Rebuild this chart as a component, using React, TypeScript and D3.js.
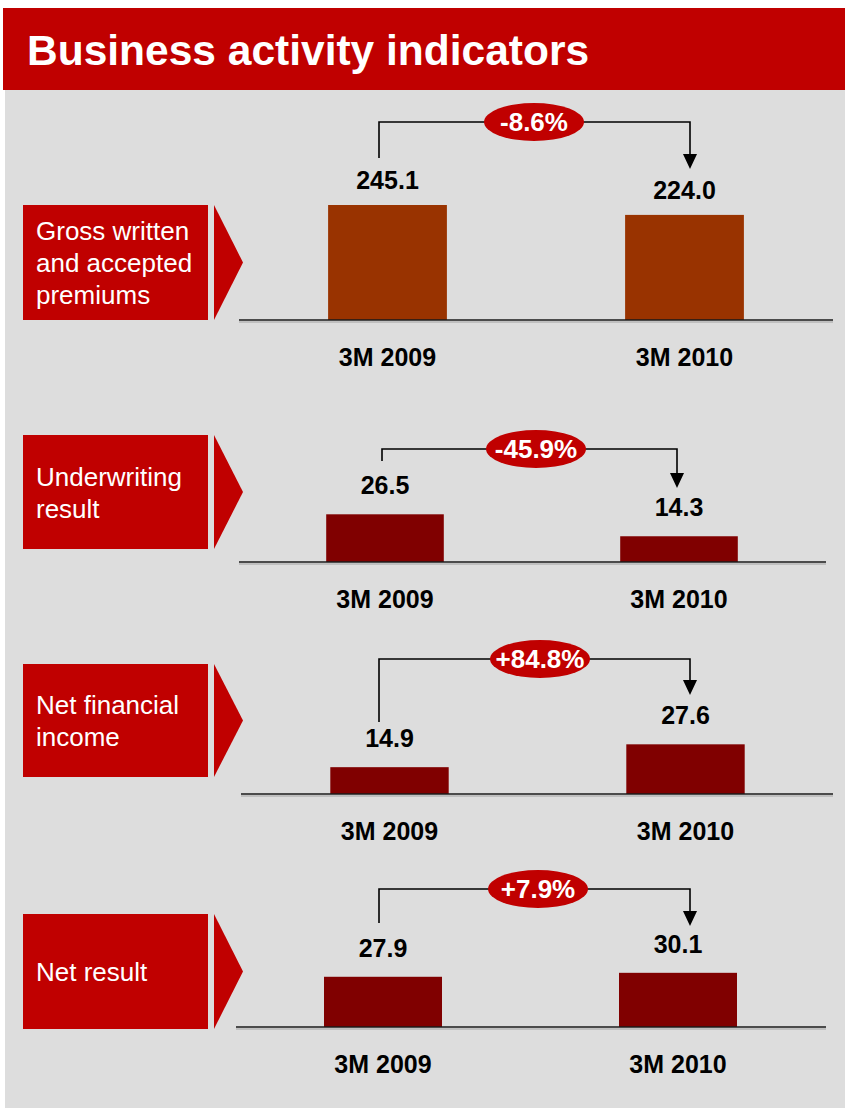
import React from "react";
import * as d3 from "d3";

// ---- data ----
const categories = ["3M 2009", "3M 2010"];
const indicatorLabels = [
  ["Gross written", "and accepted", "premiums"],
  ["Underwriting", "result"],
  ["Net financial", "income"],
  ["Net result"],
];
const grossPremiums = [245.1, 224.0];
const underwritingResult = [26.5, 14.3];
const netFinancialIncome = [14.9, 27.6];
const netResult = [27.9, 30.1];
const changeLabels = ["-8.6%", "-45.9%", "+84.8%", "+7.9%"];
const seriesList = [grossPremiums, underwritingResult, netFinancialIncome, netResult];
const yDomainMax = [245.1, 30, 30, 30];

// ---- layout (positions / styles) ----
const RED = "#C00000";
const BG = "#DDDDDD";
const layout = [
  { baseY: 320, boxTop: 205, boxBot: 320, c1: 387.5, step: 297, ax0: 239, ax1: 833, barH: 115, barColor: "#993300", lx: 379, rx: 690, by: 122, lBot: 158, tip: 169, ecx: 534, vOff: 16 },
  { baseY: 562, boxTop: 435, boxBot: 549, c1: 385, step: 294, ax0: 239, ax1: 826, barH: 54, barColor: "#800000", lx: 382, rx: 677, by: 449, lBot: 461, tip: 488, ecx: 536, vOff: 20 },
  { baseY: 794, boxTop: 664, boxBot: 777, c1: 389.5, step: 296, ax0: 241, ax1: 833, barH: 54, barColor: "#800000", lx: 379, rx: 690, by: 659, lBot: 722, tip: 695, ecx: 540, vOff: 20 },
  { baseY: 1027, boxTop: 914, boxBot: 1029, c1: 383, step: 295, ax0: 236, ax1: 826, barH: 54, barColor: "#800000", lx: 379, rx: 690, by: 889, lBot: 923, tip: 926, ecx: 538, vOff: 20 },
];
const FONT = "'Liberation Sans', Arial, Helvetica, sans-serif";
const fmt = d3.format(".1f");

function Panel({ i }: { i: number }) {
  const L = layout[i];
  const values = seriesList[i];
  const x = d3
    .scaleBand<string>()
    .domain(categories)
    .range([L.c1 - L.step / 2, L.c1 + L.step * 1.5])
    .paddingInner(0.6)
    .paddingOuter(0.3);
  const y = d3.scaleLinear().domain([0, yDomainMax[i]]).range([L.baseY, L.baseY - L.barH]);
  const boxMid = (L.boxTop + L.boxBot) / 2;
  const lines = indicatorLabels[i];
  const arrowLen = 15;
  return (
    <g>
      {/* label box */}
      <rect x={23} y={L.boxTop} width={185} height={L.boxBot - L.boxTop} fill={RED} />
      <polygon points={`214,${L.boxTop} 243,${boxMid} 214,${L.boxBot}`} fill={RED} />
      {lines.map((t, k) => (
        <text key={k} x={36} y={boxMid + 9.5 + (k - (lines.length - 1) / 2) * 32} fill="#fff" fontSize={26} fontFamily={FONT}>
          {t}
        </text>
      ))}
      {/* bars */}
      {categories.map((c, k) => (
        <g key={c}>
          <rect x={x(c)} y={y(values[k])} width={x.bandwidth()} height={L.baseY - y(values[k])} fill={L.barColor} />
          <text x={(x(c) as number) + x.bandwidth() / 2} y={y(values[k]) - L.vOff} textAnchor="middle" fontSize={25} fontWeight="bold" fontFamily={FONT} fill="#000">
            {fmt(values[k])}
          </text>
          <text x={(x(c) as number) + x.bandwidth() / 2} y={L.baseY + 46} textAnchor="middle" fontSize={25} fontWeight="bold" fontFamily={FONT} fill="#000">
            {c}
          </text>
        </g>
      ))}
      {/* axis line */}
      <line x1={L.ax0} x2={L.ax1} y1={L.baseY + 2} y2={L.baseY + 2} stroke="#b4b4b4" strokeWidth={1.5} />
      <line x1={L.ax0} x2={L.ax1} y1={L.baseY} y2={L.baseY} stroke="#1a1a1a" strokeWidth={1.5} />
      {/* bracket */}
      <path d={`M${L.lx},${L.lBot} V${L.by} H${L.rx} V${L.tip - arrowLen}`} fill="none" stroke="#000" strokeWidth={1.6} />
      <polygon points={`${L.rx - 7},${L.tip - arrowLen} ${L.rx + 7},${L.tip - arrowLen} ${L.rx},${L.tip}`} fill="#000" />
      <ellipse cx={L.ecx} cy={L.by} rx={50} ry={19} fill={RED} />
      <text x={L.ecx} y={L.by + 9} textAnchor="middle" fill="#fff" fontSize={26} fontWeight="bold" fontFamily={FONT}>
        {changeLabels[i]}
      </text>
    </g>
  );
}

export default function App() {
  return (
    <svg
      width={845}
      height={1109}
      style={{ position: "absolute", left: 0, top: 0, display: "block" }}
      xmlns="http://www.w3.org/2000/svg"
    >
      <rect x={0} y={0} width={845} height={1109} fill="#fff" />
      <rect x={5} y={90} width={840} height={1018} fill={BG} />
      <rect x={3} y={8} width={842} height={82} fill={RED} />
      <text x={27} y={65} fill="#fff" fontSize={42.5} fontWeight="bold" fontFamily={FONT}>
        Business activity indicators
      </text>
      {layout.map((_, i) => (
        <Panel key={i} i={i} />
      ))}
    </svg>
  );
}
